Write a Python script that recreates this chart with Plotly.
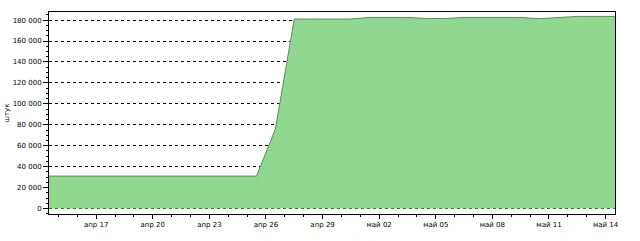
import plotly.graph_objects as go
import pandas as pd

# Data: one value per day (noon), 2024-04-14 .. 2024-05-14
dates = pd.date_range("2024-04-14 12:00", "2024-05-14 12:00", freq="D")
values = [31000, 31000, 31000, 31000, 31000, 31000, 31000, 31000, 31000, 31000,
          31000, 31000, 76000, 181000, 181000, 181000, 181000, 182500, 182500, 182500,
          181500, 181500, 182500, 182500, 182500, 182500, 181300, 182300, 183500, 183500,
          183500]

tick_dates = ["2024-04-17", "2024-04-20", "2024-04-23", "2024-04-26", "2024-04-29",
              "2024-05-02", "2024-05-05", "2024-05-08", "2024-05-11", "2024-05-14"]
tick_labels = ["апр 17", "апр 20", "апр 23", "апр 26", "апр 29",
               "май 02", "май 05", "май 08", "май 11", "май 14"]
y_title = "штук"

fig = go.Figure()
fig.add_trace(go.Scatter(
    x=dates, y=values, mode="lines", fill="tozeroy",
    line=dict(color="#5b8c5b", width=1),
    fillcolor="#90d890", showlegend=False,
))

font = dict(family="DejaVu Sans", size=7, color="#000000")

fig.update_layout(
    width=640, height=241,
    margin=dict(l=49, r=25, t=12, b=27),
    paper_bgcolor="#ffffff", plot_bgcolor="#ffffff",
    separators=", ",
    font=font,
)
fig.update_xaxes(
    range=["2024-04-14 12:00", "2024-05-14 12:00"],
    tickmode="array", tickvals=tick_dates, ticktext=tick_labels,
    ticks="outside", ticklen=4, tickcolor="#000000", tickwidth=1,
    showline=True, linecolor="#000000", linewidth=1, mirror=True,
    showgrid=False, zeroline=False, tickfont=font, automargin=False,
    minor=dict(tickmode="linear", tick0="2024-04-14", dtick=86400000,
               ticks="outside", ticklen=2, tickcolor="#000000", showgrid=False),
)
fig.update_yaxes(
    range=[-5200, 187700],
    tickmode="linear", tick0=0, dtick=20000, tickformat=",d",
    ticks="outside", ticklen=5, tickcolor="#000000", tickwidth=1,
    showline=True, linecolor="#000000", linewidth=1, mirror=True,
    showgrid=True, gridcolor="#000000", gridwidth=1, griddash="3px,3px",
    zeroline=False, tickfont=font, automargin=False,
    minor=dict(tickmode="linear", tick0=0, dtick=5000,
               ticks="outside", ticklen=2, tickcolor="#000000", showgrid=False),
    title=dict(text=y_title, font=font, standoff=2),
)

fig.write_html("out.html")
